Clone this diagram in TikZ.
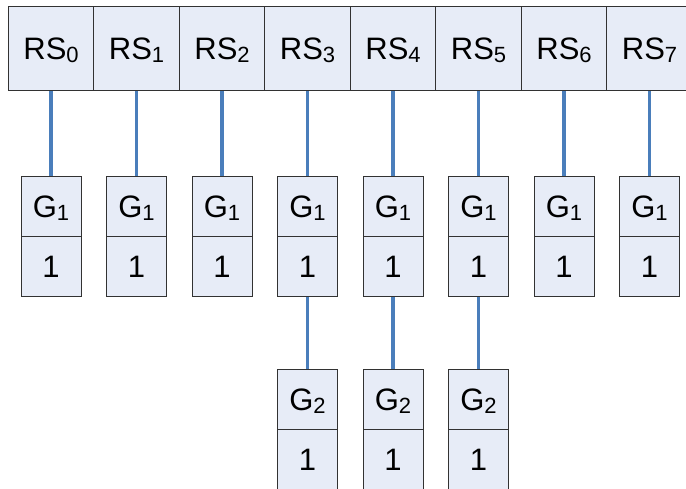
\documentclass[tikz,border=0pt]{standalone}
\usepackage{fontspec}
\setmainfont{Liberation Sans}
\definecolor{cellfill}{RGB}{231,236,247}
\definecolor{cellline}{RGB}{50,50,50}
\definecolor{connblue}{HTML}{4A7EBB}
\newcommand\sbs[1]{\raisebox{-3pt}{\fontsize{22}{22}\selectfont #1}}
\tikzset{
  cell/.style={rectangle, draw=cellline, fill=cellfill, line width=0.9pt, inner sep=0pt,
    text height=22.3pt, text depth=0pt, font=\fontsize{31}{31}\selectfont},
  rscell/.style={cell, minimum width=85.5pt, minimum height=84.7pt},
  gcell/.style={cell, minimum width=60pt, minimum height=60pt},
  conn/.style={draw=connblue, line width=3.3pt}
}
\begin{document}
\begin{tikzpicture}[x=1pt,y=-1pt]
\useasboundingbox (0,0) rectangle (686,488);
\foreach \i in {0,...,7}{
  \node[rscell] (rs\i) at ({51.05+85.5*\i},48.35) {RS\sbs{\i}};
  \node[gcell] (ga\i) at ({51.05+85.5*\i},206.7) {G\sbs{1}};
  \node[gcell] (va\i) at ({51.05+85.5*\i},266.7) {1};
  \draw[conn] (rs\i.south) -- (ga\i.north);
}
\foreach \i in {3,4,5}{
  \node[gcell] (gb\i) at ({51.05+85.5*\i},399.2) {G\sbs{2}};
  \node[gcell] (vb\i) at ({51.05+85.5*\i},459.2) {1};
  \draw[conn] (va\i.south) -- (gb\i.north);
}
\end{tikzpicture}
\end{document}
